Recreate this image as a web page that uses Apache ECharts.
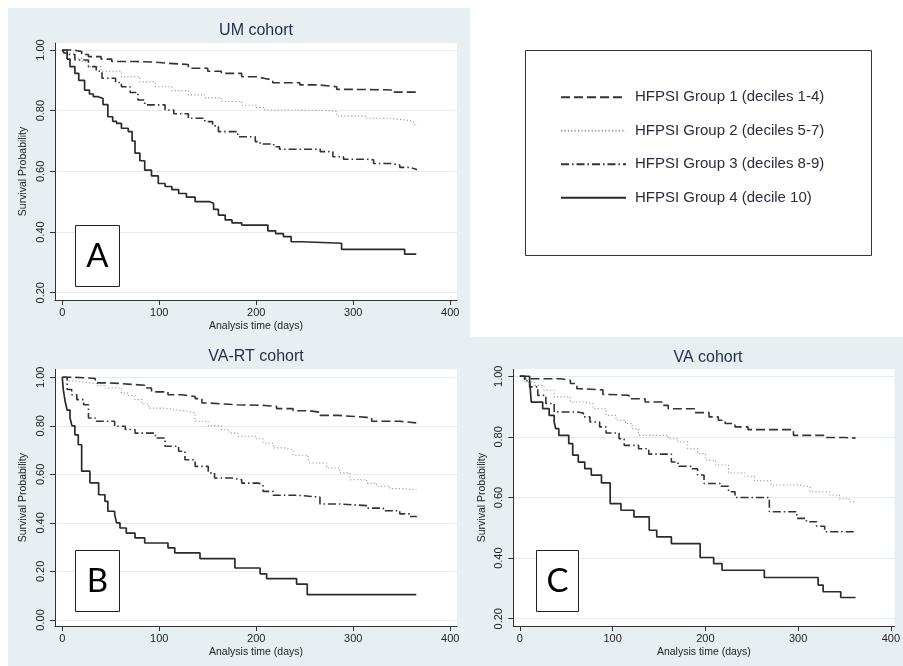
<!DOCTYPE html>
<html><head><meta charset="utf-8">
<script src="https://cdn.jsdelivr.net/npm/echarts@6/dist/echarts.min.js"></script>
<style>html,body{margin:0;padding:0;background:#fff}#c{width:903px;height:666px}</style>
</head><body><div id="c"></div>
<script>
const groupNames = ['HFPSI Group 1 (deciles 1-4)','HFPSI Group 2 (deciles 5-7)','HFPSI Group 3 (deciles 8-9)','HFPSI Group 4 (decile 10)'];
const panelTitles = ['UM cohort','VA-RT cohort','VA cohort'];
const panelLetters = ['A','B','C'];
const xTicks = [0,100,200,300,400];
const yTicksAC = [0.2,0.4,0.6,0.8,1.0];
const yTicksB = [0,0.2,0.4,0.6,0.8,1.0];
const xTitle = 'Analysis time (days)';
const yTitle = 'Survival Probability';

// UM cohort (A): [day, survival]
const umG1 = [[0,1],[11,0.995],[20,0.985],[27,0.978],[40,0.97],[51,0.962],[75,0.96],[96,0.956],[110,0.952],[130,0.94],[150,0.93],[164,0.923],[185,0.912],[200,0.906],[209,0.901],[217,0.892],[245,0.885],[264,0.879],[283,0.87],[300,0.869],[331,0.868],[341,0.861],[365,0.861]];
const umG2 = [[0,1],[5,0.99],[13,0.973],[20,0.963],[27,0.945],[40,0.93],[61,0.912],[80,0.895],[96,0.879],[113,0.866],[130,0.852],[147,0.842],[164,0.83],[185,0.818],[200,0.81],[209,0.802],[245,0.8],[276,0.797],[283,0.782],[314,0.775],[338,0.769],[355,0.764],[362,0.755],[365,0.75]];
const umG3 = [[0,1],[5,0.985],[13,0.967],[27,0.945],[35,0.93],[41,0.907],[55,0.893],[61,0.879],[70,0.86],[78,0.835],[85,0.819],[106,0.802],[115,0.79],[130,0.775],[147,0.764],[155,0.75],[161,0.731],[181,0.714],[199,0.698],[204,0.69],[218,0.681],[224,0.673],[266,0.665],[279,0.648],[290,0.64],[314,0.638],[321,0.626],[338,0.621],[348,0.613],[358,0.607],[365,0.604]];
const umG4 = [[0,1],[2,0.99],[5,0.97],[8,0.945],[13,0.923],[17,0.9],[23,0.868],[28,0.855],[32,0.846],[37,0.84],[42,0.82],[47,0.78],[52,0.765],[56,0.758],[61,0.742],[68,0.731],[72,0.7],[75,0.66],[80,0.635],[85,0.604],[92,0.585],[99,0.56],[106,0.55],[113,0.54],[120,0.527],[128,0.515],[137,0.5],[152,0.495],[156,0.475],[161,0.456],[168,0.44],[175,0.43],[185,0.423],[212,0.404],[220,0.395],[228,0.385],[236,0.368],[247,0.363],[288,0.343],[353,0.327],[365,0.327]];

// VA-RT cohort (B)
const vartG1 = [[0,1],[13,0.997],[27,0.995],[34,0.977],[44,0.975],[58,0.967],[85,0.956],[92,0.94],[109,0.928],[123,0.921],[137,0.912],[144,0.894],[150.5,0.887],[180,0.884],[209,0.88],[221,0.871],[238,0.862],[255,0.856],[266,0.843],[284.5,0.835],[314,0.833],[319,0.819],[348,0.812],[365,0.812]];
const vartG2 = [[0,1],[5,0.985],[13,0.977],[27,0.975],[35,0.965],[44,0.956],[61,0.935],[68,0.925],[75,0.908],[82,0.89],[89,0.873],[106,0.867],[116,0.86],[130,0.853],[137,0.819],[150.5,0.8],[164,0.784],[172,0.77],[181,0.757],[199,0.747],[207,0.729],[217.5,0.709],[231,0.702],[238,0.679],[253.6,0.667],[255,0.647],[272.6,0.626],[286,0.606],[296.6,0.578],[314,0.564],[324,0.551],[338,0.541],[350,0.537],[365,0.537]];
const vartG3 = [[0,1],[5,0.95],[9.7,0.928],[15,0.908],[22,0.887],[27,0.832],[34,0.819],[54,0.798],[65,0.785],[75,0.77],[96,0.75],[106,0.716],[120,0.695],[126.5,0.66],[137,0.633],[150.5,0.606],[157,0.585],[174.6,0.578],[185,0.564],[202,0.557],[207,0.53],[217.5,0.514],[241.6,0.506],[265.7,0.478],[286,0.471],[314,0.461],[331,0.45],[348,0.437],[358,0.426],[365,0.423]];
const vartG4 = [[0,1],[1,0.95],[3,0.9],[5,0.865],[8,0.832],[10,0.8],[13,0.763],[16.5,0.722],[20,0.613],[28.5,0.565],[37.5,0.516],[44,0.489],[47,0.448],[54,0.434],[56,0.4],[59.5,0.379],[66,0.358],[75,0.338],[85,0.317],[109,0.297],[116,0.276],[142,0.253],[178,0.214],[204,0.19],[210.7,0.17],[241.6,0.148],[252.6,0.104],[365,0.104]];

// VA cohort (C)
const vaG1 = [[0,1],[5.3,0.992],[44,0.987],[54.5,0.976],[61.5,0.959],[65,0.955],[89.6,0.94],[96.7,0.937],[117.8,0.926],[135,0.915],[153,0.904],[160,0.893],[188,0.88],[204,0.866],[214,0.855],[221.4,0.844],[232,0.833],[246,0.824],[295,0.805],[330,0.798],[350,0.796],[362,0.794]];
const vaG2 = [[0,1],[5.3,0.981],[16,0.97],[26,0.954],[37,0.932],[54.5,0.915],[68.5,0.91],[79,0.893],[93,0.871],[103.7,0.855],[114,0.844],[121,0.827],[128,0.805],[160,0.794],[170.5,0.783],[181,0.761],[191.6,0.745],[200,0.723],[211,0.707],[225,0.681],[242.5,0.67],[253,0.655],[270.7,0.641],[302,0.635],[313,0.619],[334,0.608],[344.5,0.596],[355,0.586],[362,0.586]];
const vaG3 = [[0,1],[5,0.985],[10.5,0.965],[19.3,0.937],[28,0.91],[37,0.882],[61.5,0.879],[68.5,0.866],[75.6,0.849],[86,0.833],[93,0.813],[107,0.794],[112.5,0.772],[128,0.761],[139,0.743],[163.4,0.717],[170.5,0.703],[184.5,0.695],[191.6,0.674],[198.6,0.646],[216,0.637],[225,0.619],[232,0.6],[269,0.553],[298.7,0.531],[309,0.52],[320,0.505],[328.7,0.487],[360,0.487]];
const vaG4 = [[0,1],[10.5,0.987],[12.3,0.915],[24.6,0.893],[31.6,0.871],[37,0.849],[38.7,0.827],[42,0.805],[52.7,0.778],[57,0.74],[63,0.717],[70,0.695],[77,0.674],[88,0.648],[97.4,0.58],[109,0.558],[123,0.536],[139.5,0.492],[147.6,0.47],[163.4,0.448],[194.4,0.402],[209,0.382],[218,0.36],[263.6,0.336],[321.6,0.311],[327,0.289],[346,0.27],[362,0.27]];

const panelData = [[umG1,umG2,umG3,umG4],[vartG1,vartG2,vartG3,vartG4],[vaG1,vaG2,vaG3,vaG4]];

const FONT = 'Liberation Sans, Arial, sans-serif';
const lineStyles = [
  {color:'#333', width:1.6, type:[9,4]},
  {color:'#999', width:1.1, type:[1.2,2.2]},
  {color:'#333', width:1.6, type:[8,3,1.5,3]},
  {color:'#2a2a2a', width:1.7, type:'solid'}
];

const grids = [
  {left:55, right:446, top:43, bottom:366},
  {left:55, right:446, top:369.3, bottom:40},
  {left:513.3, right:0, top:369.3, bottom:40}
];
const xRanges = [[-7.5,407],[-7.5,407],[-7.07,403.9]];
const yRanges = [[0.176,1.023],[-0.025,1.033],[0.176,1.023]];
const yTickSets = [yTicksAC, yTicksB, yTicksAC];

const axisColor = '#333';
const xAxes = grids.map((g,i)=>({
  type:'value', gridIndex:i, min:xRanges[i][0], max:xRanges[i][1],
  axisLine:{show:true, onZero:false, lineStyle:{color:axisColor,width:1}},
  axisTick:{show:true, length:5, customValues:xTicks, lineStyle:{color:axisColor}},
  axisLabel:{customValues:xTicks, margin:7, fontSize:11, color:'#222', fontFamily:FONT},
  splitLine:{show:false},
  name:xTitle, nameLocation:'middle', nameGap:21,
  nameTextStyle:{fontSize:10.5, color:'#222', fontFamily:FONT}
}));
const yAxes = grids.map((g,i)=>({
  type:'value', gridIndex:i, min:yRanges[i][0], max:yRanges[i][1],
  axisLine:{show:true, onZero:false, lineStyle:{color:axisColor,width:1}},
  axisTick:{show:true, length:5, customValues:yTickSets[i], lineStyle:{color:axisColor}},
  axisLabel:{customValues:yTickSets[i], rotate:90, margin:9, fontSize:11, color:'#222', fontFamily:FONT,
    formatter:v=>Number(v).toFixed(2)},
  splitLine:{show:true, lineStyle:{color:'#e2ecf1', width:1}},
  name:yTitle, nameLocation:'middle', nameGap:26,
  nameTextStyle:{fontSize:10.5, color:'#222', fontFamily:FONT}
}));

const series = [];
panelData.forEach((groups,p)=>{
  groups.forEach((d,gi)=>{
    series.push({
      type:'line', name:groupNames[gi], xAxisIndex:p, yAxisIndex:p,
      data:d, step:'end', symbol:'none', showSymbol:false,
      lineStyle:lineStyles[gi], itemStyle:{color:lineStyles[gi].color},
      silent:true, z:3
    });
  });
});

const BG = '#e8eff2';
const graphic = [
  {type:'rect', z:-10, shape:{x:8,y:8,width:462,height:329}, style:{fill:BG}},
  {type:'rect', z:-10, shape:{x:8,y:337,width:895,height:329}, style:{fill:BG}},
  {type:'text', z:10, style:{text:panelTitles[0], x:256, y:31, align:'center', verticalAlign:'middle', font:'16px '+FONT, fill:'#1f2d4a'}},
  {type:'text', z:10, style:{text:panelTitles[1], x:256, y:357, align:'center', verticalAlign:'middle', font:'16px '+FONT, fill:'#1f2d4a'}},
  {type:'text', z:10, style:{text:panelTitles[2], x:708, y:358, align:'center', verticalAlign:'middle', font:'16px '+FONT, fill:'#1f2d4a'}},
  {type:'rect', z:20, shape:{x:75.5,y:225.5,width:44,height:61}, style:{fill:'#fff', stroke:'#222', lineWidth:1}},
  {type:'text', z:21, style:{text:panelLetters[0], x:97.5, y:256.5, align:'center', verticalAlign:'middle', font:'33px Lato, '+FONT, fill:'#000'}},
  {type:'rect', z:20, shape:{x:75.5,y:550.5,width:44,height:61}, style:{fill:'#fff', stroke:'#222', lineWidth:1}},
  {type:'text', z:21, style:{text:panelLetters[1], x:97.5, y:581.5, align:'center', verticalAlign:'middle', font:'33px Lato, '+FONT, fill:'#000'}},
  {type:'rect', z:20, shape:{x:536.5,y:550.5,width:42,height:61}, style:{fill:'#fff', stroke:'#222', lineWidth:1}},
  {type:'text', z:21, style:{text:panelLetters[2], x:557.5, y:581.5, align:'center', verticalAlign:'middle', font:'33px Lato, '+FONT, fill:'#000'}},
  {type:'rect', z:20, shape:{x:525.5,y:50.5,width:346,height:205}, style:{fill:'none', stroke:'#333', lineWidth:1}}
];

const chart = echarts.init(document.getElementById('c'), null, {renderer:'canvas'});
chart.setOption({
  animation:false,
  backgroundColor:'#fff',
  grid:grids.map(g=>Object.assign({show:true, backgroundColor:'#fff', borderWidth:0}, g)),
  xAxis:xAxes, yAxis:yAxes,
  legend:{
    data:groupNames, orient:'vertical', left:560, top:89.7, padding:0,
    itemWidth:65, itemHeight:14, itemGap:18.5, selectedMode:false,
    itemStyle:{opacity:0},
    textStyle:{fontSize:15, color:'#2b2b3d', fontFamily:FONT, padding:[0,0,0,4]}
  },
  series:series,
  graphic:graphic
});
</script></body></html>
